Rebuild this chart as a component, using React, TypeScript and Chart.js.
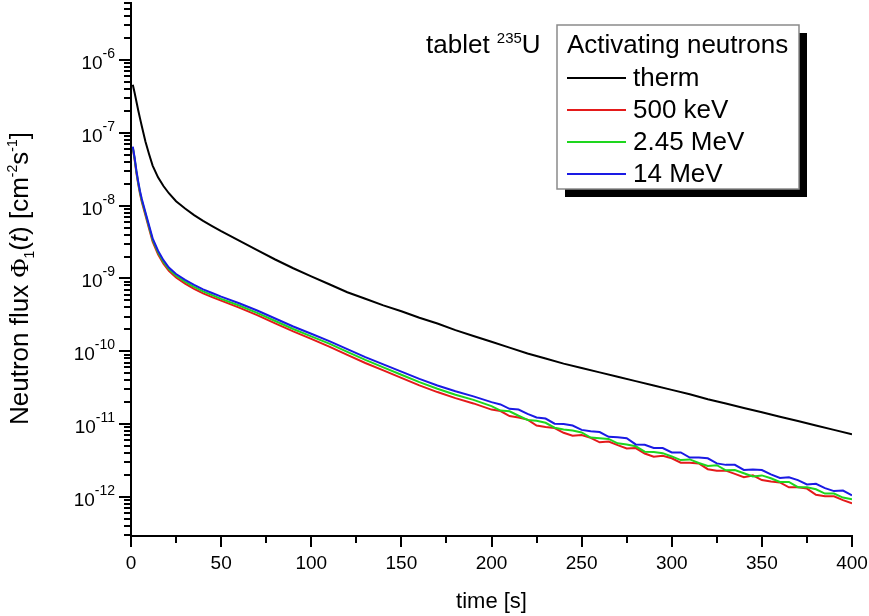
import React, { useEffect, useRef } from 'react';
import { Chart, registerables } from 'chart.js';

Chart.register(...registerables);

const SANS = '"Liberation Sans", Arial, sans-serif';
const SERIF = '"Liberation Serif", "Times New Roman", serif';

// ---------- data ----------
const timeTherm = [1, 2, 3, 4, 5, 6, 8, 10, 12, 15, 18, 21, 25, 30, 35, 40, 45, 50, 60, 70, 80, 90, 100, 110, 120, 130, 140, 150, 160, 170, 180, 190, 200, 210, 220, 230, 240, 250, 260, 270, 280, 290, 300, 310, 320, 330, 340, 350, 360, 370, 380, 390, 400];

const fluxTherm = [4.57e-7, 3.55e-7, 2.69e-7, 2.04e-7, 1.58e-7, 1.23e-7, 7.59e-8, 5.13e-8, 3.55e-8, 2.45e-8, 1.86e-8, 1.48e-8, 1.15e-8, 9.12e-9, 7.41e-9, 6.17e-9, 5.25e-9, 4.47e-9, 3.31e-9, 2.45e-9, 1.82e-9, 1.38e-9, 1.07e-9, 8.32e-10, 6.46e-10, 5.25e-10, 4.27e-10, 3.55e-10, 2.88e-10, 2.4e-10, 1.95e-10, 1.62e-10, 1.35e-10, 1.12e-10, 9.33e-11, 7.94e-11, 6.76e-11, 5.89e-11, 5.13e-11, 4.47e-11, 3.89e-11, 3.39e-11, 2.95e-11, 2.57e-11, 2.19e-11, 1.91e-11, 1.66e-11, 1.45e-11, 1.26e-11, 1.1e-11, 9.55e-12, 8.32e-12, 7.24e-12];

const timeFast = [1, 2, 3, 4, 5, 6, 8, 10, 12, 15, 18, 21, 25, 30, 35, 40, 45, 50, 60, 70, 80, 90, 100, 110, 120, 130, 140, 150, 160, 170, 180, 190,
  200, 205, 210, 215, 220, 225, 230, 235, 240, 245, 250, 255, 260, 265, 270, 275, 280, 285, 290, 295, 300, 305, 310, 315, 320, 325, 330, 335, 340, 345, 350, 355, 360, 365, 370, 375, 380, 385, 390, 395, 400];

const flux500keV = [6.1e-8, 4.3e-8, 2.8e-8, 1.97e-8, 1.45e-8, 1.12e-8, 7.4e-9, 4.85e-9, 3.2e-9, 2.15e-9, 1.6e-9, 1.27e-9, 1.03e-9, 8.5e-10, 7.2e-10, 6.25e-10, 5.55e-10, 4.95e-10, 3.98e-10, 3.14e-10, 2.42e-10, 1.87e-10, 1.48e-10, 1.16e-10, 8.9e-11, 6.9e-11, 5.45e-11, 4.3e-11, 3.4e-11, 2.75e-11, 2.27e-11, 1.92e-11,
  1.58e-11, 1.51e-11, 1.29e-11, 1.23e-11, 1.15e-11, 9.55e-12, 9.12e-12, 8.81e-12, 7.59e-12, 6.92e-12, 7.08e-12, 6.46e-12, 5.62e-12, 5.75e-12, 5.13e-12, 4.62e-12, 4.68e-12, 3.94e-12, 3.55e-12, 3.67e-12, 3.39e-12, 2.95e-12, 2.95e-12, 2.88e-12, 2.4e-12, 2.29e-12, 2.29e-12, 2.07e-12, 1.86e-12, 1.97e-12, 1.7e-12, 1.62e-12, 1.58e-12, 1.35e-12, 1.35e-12, 1.3e-12, 1.07e-12, 1.02e-12, 1.02e-12, 9.02e-13, 8.13e-13];

const flux245MeV = [6.3e-8, 4.45e-8, 2.92e-8, 2.06e-8, 1.52e-8, 1.18e-8, 7.8e-9, 5.12e-9, 3.38e-9, 2.28e-9, 1.69e-9, 1.34e-9, 1.09e-9, 9.0e-10, 7.65e-10, 6.65e-10, 5.9e-10, 5.25e-10, 4.25e-10, 3.37e-10, 2.6e-10, 2.02e-10, 1.6e-10, 1.27e-10, 9.8e-11, 7.6e-11, 6.0e-11, 4.75e-11, 3.77e-11, 3.05e-11, 2.53e-11, 2.15e-11,
  1.76e-11, 1.53e-11, 1.5e-11, 1.3e-11, 1.14e-11, 1.11e-11, 1.04e-11, 8.91e-12, 8.41e-12, 8.13e-12, 7.67e-12, 6.53e-12, 6.38e-12, 6.24e-12, 5.43e-12, 5.25e-12, 4.95e-12, 4.17e-12, 4.12e-12, 3.98e-12, 3.59e-12, 3.2e-12, 3.27e-12, 2.92e-12, 2.66e-12, 2.72e-12, 2.32e-12, 2.34e-12, 2.11e-12, 1.91e-12, 1.97e-12, 1.8e-12, 1.6e-12, 1.6e-12, 1.36e-12, 1.35e-12, 1.27e-12, 1.11e-12, 1.11e-12, 9.77e-13, 9.23e-13];

const flux14MeV = [6.46e-8, 4.57e-8, 3.02e-8, 2.14e-8, 1.58e-8, 1.23e-8, 8.13e-9, 5.37e-9, 3.55e-9, 2.4e-9, 1.78e-9, 1.41e-9, 1.15e-9, 9.55e-10, 8.13e-10, 7.08e-10, 6.31e-10, 5.62e-10, 4.57e-10, 3.63e-10, 2.82e-10, 2.19e-10, 1.74e-10, 1.38e-10, 1.07e-10, 8.32e-11, 6.61e-11, 5.25e-11, 4.17e-11, 3.39e-11, 2.82e-11, 2.4e-11,
  2.0e-11, 1.86e-11, 1.62e-11, 1.58e-11, 1.38e-11, 1.23e-11, 1.19e-11, 1.01e-11, 1.0e-11, 9.55e-12, 8.32e-12, 7.94e-12, 7.76e-12, 6.68e-12, 6.61e-12, 6.38e-12, 5.25e-12, 5.19e-12, 4.68e-12, 4.68e-12, 4.07e-12, 4.07e-12, 3.47e-12, 3.47e-12, 3.39e-12, 2.88e-12, 2.75e-12, 2.75e-12, 2.34e-12, 2.37e-12, 2.34e-12, 2.04e-12, 1.82e-12, 1.86e-12, 1.7e-12, 1.48e-12, 1.51e-12, 1.32e-12, 1.2e-12, 1.22e-12, 1.05e-12];

const seriesLabels = ['therm', '500 keV', '2.45 MeV', '14 MeV'];
const seriesColors = ['#000000', '#e41a1a', '#1ed61e', '#1a1ae4'];

const xTickLabels = [0, 50, 100, 150, 200, 250, 300, 350, 400];
const xMinorTicks = [25, 75, 125, 175, 225, 275, 325, 375];
const yTickExponents = [-6, -7, -8, -9, -10, -11, -12];
const yMinorMantissas = [2, 3, 4, 5, 6, 7, 8, 9];
const yMinorDecades = [-13, -12, -11, -10, -9, -8, -7, -6];

const legendTitle = 'Activating neutrons';
const xTitle = 'time [s]';
const noteText = ['tablet ', '235', 'U'];

// ---------- helpers ----------
type Seg = { t: string; f: string; dy?: number };
function drawSegs(ctx: CanvasRenderingContext2D, segs: Seg[], x: number, y: number) {
  let cx = x;
  for (const s of segs) {
    ctx.font = s.f;
    ctx.fillText(s.t, cx, y + (s.dy || 0));
    cx += ctx.measureText(s.t).width;
  }
}

const decorPlugin = {
  id: 'decor',
  afterDraw(chart: any) {
    const ctx: CanvasRenderingContext2D = chart.ctx;
    const xs = chart.scales.x;
    const ys = chart.scales.y;
    const a = chart.chartArea;
    ctx.save();
    ctx.strokeStyle = '#000';
    ctx.fillStyle = '#000';
    ctx.lineWidth = 2;
    ctx.lineCap = 'butt';

    // x ticks
    ctx.beginPath();
    for (const v of xMinorTicks) {
      const px = Math.round(xs.getPixelForValue(v));
      ctx.moveTo(px, a.bottom);
      ctx.lineTo(px, a.bottom + 7);
    }
    for (const v of xTickLabels) {
      const px = Math.round(xs.getPixelForValue(v));
      ctx.moveTo(px, a.bottom);
      ctx.lineTo(px, a.bottom + 11);
    }
    ctx.stroke();
    ctx.font = `19px ${SANS}`;
    ctx.textAlign = 'center';
    ctx.textBaseline = 'alphabetic';
    for (const v of xTickLabels) {
      const px = xs.getPixelForValue(v);
      ctx.fillText(String(v), px, a.bottom + 33);
    }

    // y ticks
    ctx.beginPath();
    for (const e of yMinorDecades) {
      for (const m of yMinorMantissas) {
        const v = m * Math.pow(10, e);
        if (v < ys.min || v > ys.max) continue;
        const py = Math.round(ys.getPixelForValue(v));
        ctx.moveTo(a.left, py);
        ctx.lineTo(a.left - 7, py);
      }
    }
    for (const e of yTickExponents) {
      const py = Math.round(ys.getPixelForValue(Math.pow(10, e)));
      ctx.moveTo(a.left, py);
      ctx.lineTo(a.left - 12, py);
    }
    ctx.stroke();
    ctx.textAlign = 'left';
    for (const e of yTickExponents) {
      const py = ys.getPixelForValue(Math.pow(10, e));
      const expStr = String(e);
      ctx.font = `14px ${SANS}`;
      const ew = ctx.measureText(expStr).width;
      ctx.font = `19px ${SANS}`;
      const bw = ctx.measureText('10').width;
      const right = 115;
      ctx.fillText('10', right - ew - bw, py + 9);
      ctx.font = `14px ${SANS}`;
      ctx.fillText(expStr, right - ew, py - 2);
    }

    // x title
    ctx.font = `22px ${SANS}`;
    ctx.textAlign = 'center';
    ctx.fillText(xTitle, (a.left + a.right) / 2, 608);

    // y title (rotated)
    ctx.save();
    ctx.translate(28, 425);
    ctx.rotate(-Math.PI / 2);
    ctx.textAlign = 'left';
    drawSegs(ctx, [
      { t: 'Neutron flux ', f: `26px ${SANS}` },
      { t: 'Φ', f: `26px ${SERIF}` },
      { t: '1', f: `14px ${SANS}`, dy: 6 },
      { t: '(', f: `26px ${SANS}` },
      { t: 't', f: `italic 26px ${SANS}` },
      { t: ')', f: `26px ${SANS}` },
      { t: ' [cm', f: `26px ${SANS}` },
      { t: '-2', f: `14px ${SANS}`, dy: -11 },
      { t: 's', f: `26px ${SANS}` },
      { t: '-1', f: `14px ${SANS}`, dy: -11 },
      { t: ']', f: `26px ${SANS}` },
    ], 0, 0);
    ctx.restore();

    // note "tablet 235U"
    ctx.textAlign = 'left';
    drawSegs(ctx, [
      { t: noteText[0], f: `26px ${SANS}` },
      { t: noteText[1], f: `15px ${SANS}`, dy: -10 },
      { t: noteText[2], f: `26px ${SANS}` },
    ], 426, 53);

    // legend box with shadow
    const lx = 557, ly = 25, lw = 242, lh = 164;
    ctx.fillStyle = '#000';
    ctx.fillRect(lx + 8, ly + 8, lw, lh);
    ctx.fillStyle = '#fff';
    ctx.fillRect(lx, ly, lw, lh);
    ctx.strokeStyle = '#8a8a8a';
    ctx.lineWidth = 1.5;
    ctx.strokeRect(lx, ly, lw, lh);
    ctx.fillStyle = '#000';
    ctx.font = `26px ${SANS}`;
    ctx.fillText(legendTitle, 567, 53);
    chart.data.datasets.forEach((ds: any, i: number) => {
      const base = 86 + i * 32;
      ctx.strokeStyle = ds.borderColor;
      ctx.lineWidth = 2;
      ctx.beginPath();
      ctx.moveTo(567, base - 8);
      ctx.lineTo(626, base - 8);
      ctx.stroke();
      ctx.fillStyle = '#000';
      ctx.font = `26px ${SANS}`;
      ctx.fillText(ds.label, 633, base);
    });
    ctx.restore();
  },
};

export default function App() {
  const ref = useRef<HTMLCanvasElement>(null);
  useEffect(() => {
    document.body.style.margin = '0';
    const mk = (ts: number[], vs: number[]) => ts.map((t, i) => ({ x: t, y: vs[i] }));
    const chart = new Chart(ref.current as HTMLCanvasElement, {
      type: 'line',
      data: {
        datasets: [
          { label: seriesLabels[0], data: mk(timeTherm, fluxTherm), borderColor: seriesColors[0], borderWidth: 2, pointRadius: 0, tension: 0, order: 3 },
          { label: seriesLabels[1], data: mk(timeFast, flux500keV), borderColor: seriesColors[1], borderWidth: 2, pointRadius: 0, tension: 0, order: 2 },
          { label: seriesLabels[2], data: mk(timeFast, flux245MeV), borderColor: seriesColors[2], borderWidth: 2, pointRadius: 0, tension: 0, order: 1 },
          { label: seriesLabels[3], data: mk(timeFast, flux14MeV), borderColor: seriesColors[3], borderWidth: 2, pointRadius: 0, tension: 0, order: 0 },
        ],
      },
      options: {
        animation: false,
        responsive: false,
        devicePixelRatio: 1,
        layout: { padding: { left: 0, top: 3, right: 17, bottom: 0 } },
        plugins: { legend: { display: false }, tooltip: { enabled: false }, title: { display: false } },
        scales: {
          x: {
            type: 'linear', min: 0, max: 400,
            grid: { display: false },
            border: { display: true, color: '#000', width: 2 },
            ticks: { display: false },
            afterFit: (s: any) => { s.height = 80; },
          },
          y: {
            type: 'logarithmic', min: 2.9e-13, max: 6.07e-6,
            grid: { display: false },
            border: { display: true, color: '#000', width: 2 },
            ticks: { display: false },
            afterFit: (s: any) => { s.width = 131; },
          },
        },
      } as any,
      plugins: [decorPlugin],
    });
    return () => chart.destroy();
  }, []);
  return (
    <div style={{ position: 'absolute', left: 0, top: 0, width: 869, height: 616, background: '#fff' }}>
      <canvas ref={ref} width={869} height={616} style={{ display: 'block' }} />
    </div>
  );
}
